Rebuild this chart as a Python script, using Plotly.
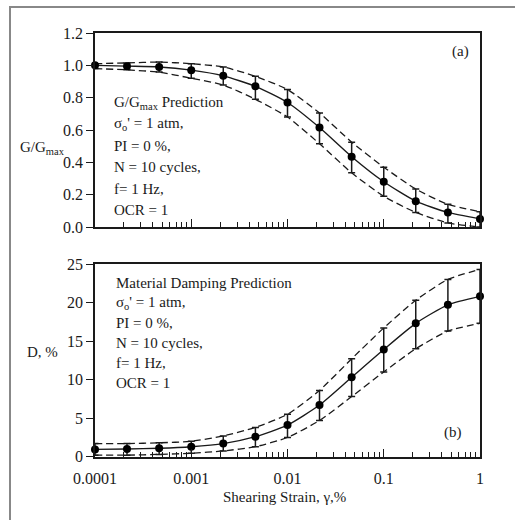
import plotly.graph_objects as go

# Shearing strain (%) at which predictions are reported
strain = [0.0001, 0.000215, 0.000464, 0.001, 0.00215, 0.00464, 0.01,
          0.0215, 0.0464, 0.1, 0.215, 0.464, 1.0]

# Normalized shear modulus G/Gmax: mean and +/- one standard deviation bounds
g_mean = [1.0, 0.995, 0.99, 0.97, 0.935, 0.87, 0.77, 0.615, 0.435, 0.28, 0.16, 0.09, 0.05]
g_upper = [1.01, 1.015, 1.02, 1.01, 0.99, 0.932, 0.85, 0.705, 0.525, 0.37, 0.235, 0.14, 0.095]
g_lower = [0.98, 0.972, 0.958, 0.92, 0.878, 0.79, 0.68, 0.515, 0.335, 0.19, 0.09, 0.025, 0.0]

# Material damping D (%): mean and bounds
d_mean = [0.95, 1.0, 1.1, 1.3, 1.7, 2.6, 4.1, 6.7, 10.3, 13.9, 17.3, 19.7, 20.8]
d_upper = [1.7, 1.7, 1.8, 2.0, 2.7, 3.8, 5.5, 8.6, 12.7, 16.7, 20.3, 23.0, 24.3]
d_lower = [0.2, 0.2, 0.3, 0.45, 0.75, 1.3, 2.5, 4.7, 7.8, 11.0, 14.0, 16.3, 17.3]

x_tickvals = [0.0001, 0.001, 0.01, 0.1, 1]
x_ticktext = ["0.0001", "0.001", "0.01", "0.1", "1"]

g_notes = ["G/G<sub>max</sub> Prediction", "σ<sub>o</sub>' = 1 atm,", "PI = 0 %,",
           "N = 10 cycles,", "f= 1 Hz,", "OCR = 1"]
d_notes = ["Material Damping Prediction", "σ<sub>o</sub>' = 1 atm,", "PI = 0 %,",
           "N = 10 cycles,", "f= 1 Hz,", "OCR = 1"]

W, H = 515, 520
FONT = "Liberation Serif, Times New Roman, serif"
INK = "#1a1a1a"


def px(x):
    return x / W


def py(y):
    return 1 - y / H


fig = go.Figure()


def add_panel(mean, upper, lower, xa, ya):
    for bound in (upper, lower):
        fig.add_trace(go.Scatter(
            x=strain, y=bound, mode="lines", xaxis=xa, yaxis=ya,
            line=dict(color=INK, width=1.3, dash="7px,4px", shape="spline", smoothing=0.6),
            cliponaxis=False, showlegend=False, hoverinfo="skip"))
    fig.add_trace(go.Scatter(
        x=strain, y=mean, mode="lines+markers", xaxis=xa, yaxis=ya,
        line=dict(color=INK, width=1.4, shape="spline", smoothing=0.6),
        marker=dict(color="black", size=8),
        error_y=dict(type="data", symmetric=False,
                     array=[u - m for u, m in zip(upper, mean)],
                     arrayminus=[m - lo for m, lo in zip(mean, lower)],
                     color=INK, thickness=1.5, width=3.5),
        cliponaxis=False, showlegend=False))


add_panel(g_mean, g_upper, g_lower, "x", "y")
add_panel(d_mean, d_upper, d_lower, "x2", "y2")

x_dom = [px(95), px(480)]
common_x = dict(type="log", range=[-4, 0], domain=x_dom, showline=True, mirror=True,
                linecolor=INK, linewidth=1.5, ticks="inside", ticklen=8, tickwidth=1.3,
                tickcolor=INK, tickvals=x_tickvals, showgrid=False, zeroline=False,
                automargin=False,
                minor=dict(ticks="inside", ticklen=5, tickwidth=1, tickcolor=INK,
                           dtick="D1", showgrid=False),
                tickfont=dict(family=FONT, size=16, color=INK))
common_y = dict(showline=True, mirror=True, linecolor=INK, linewidth=1.5,
                ticks="outside", ticklen=7, tickwidth=1.3, tickcolor=INK,
                showgrid=False, zeroline=False, automargin=False,
                tickfont=dict(family=FONT, size=16, color=INK))

fig.update_layout(
    width=W, height=H, autosize=False, margin=dict(l=0, r=0, t=0, b=0),
    paper_bgcolor="white", plot_bgcolor="white",
    xaxis=dict(common_x, anchor="y", showticklabels=False),
    yaxis=dict(common_y, anchor="x", domain=[py(227), py(33)], range=[0, 1.2],
               dtick=0.2, tickformat=".1f"),
    xaxis2=dict(common_x, anchor="y2", ticktext=x_ticktext, ticklabelstandoff=6),
    yaxis2=dict(common_y, anchor="x2", domain=[py(456.7), py(264)], range=[0, 25],
                dtick=5),
)

annots = []
for i, t in enumerate(g_notes):
    annots.append(dict(x=px(112), y=py(103 + 21.4 * i), text=t))
for i, t in enumerate(d_notes):
    annots.append(dict(x=px(114), y=py(283 + 20 * i), text=t))
for a in annots:
    a.update(xref="paper", yref="paper", xanchor="left", yanchor="middle",
             showarrow=False, font=dict(family=FONT, size=15, color=INK))

labels = [
    dict(x=px(460), y=py(52), text="(a)"),
    dict(x=px(453), y=py(432), text="(b)"),
    dict(x=px(42), y=py(148), text="G/G<sub>max</sub>"),
    dict(x=px(42), y=py(352), text="D, %"),
    dict(x=px(284), y=py(497), text="Shearing Strain, γ,%"),
]
for a in labels:
    a.update(xref="paper", yref="paper", xanchor="center", yanchor="middle",
             showarrow=False, font=dict(family=FONT, size=15, color=INK))

fig.update_layout(annotations=annots + labels)

# Outer frame around the figure
fig.add_shape(type="rect", xref="paper", yref="paper",
              x0=px(10), x1=1.05, y0=-0.05, y1=py(7),
              line=dict(color="#888888", width=2), layer="below")

fig.write_html("out.html")
